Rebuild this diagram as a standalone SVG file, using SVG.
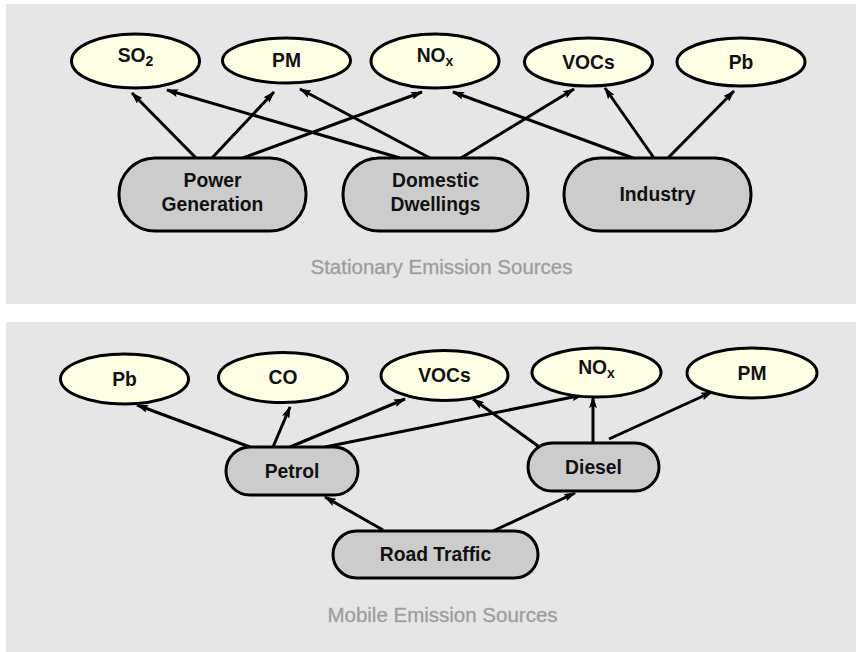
<svg xmlns="http://www.w3.org/2000/svg" width="856" height="652" viewBox="0 0 856 652">
<style>
.panel{fill:#e6e6e6}
.gas{fill:#ffffe6;stroke:#000;stroke-width:3}
.src{fill:#cccccc;stroke:#000;stroke-width:3}
.lbl{font-family:"Liberation Sans",Arial,sans-serif;font-weight:bold;font-size:19.3px;fill:#111;text-anchor:middle}
.cap{font-family:"Liberation Sans",Arial,sans-serif;font-size:20.5px;fill:#999;stroke:#aaa;stroke-width:0.4;text-anchor:middle}
.sub{font-size:14px}
#connectors line{stroke:#000;stroke-width:3;marker-end:url(#ah)}
</style>
<defs>
<marker id="ah" viewBox="0 0 12 8" refX="11" refY="4" markerWidth="12" markerHeight="8" markerUnits="userSpaceOnUse" orient="auto">
<path d="M0,0 L12,4 L0,8 L2,4 z" fill="#000"/>
</marker>
</defs>
<rect class="panel" x="6" y="4" width="850" height="300"/>
<rect class="panel" x="6" y="322" width="850" height="330"/>

<g id="connectors">
<line x1="196" y1="158" x2="132" y2="93"/>
<line x1="212" y1="158" x2="274" y2="92"/>
<line x1="243" y1="158" x2="422" y2="92"/>
<line x1="400" y1="158" x2="167" y2="90"/>
<line x1="430" y1="158" x2="300" y2="89"/>
<line x1="461" y1="158" x2="574" y2="89"/>
<line x1="633" y1="158" x2="453" y2="92"/>
<line x1="654" y1="158" x2="605" y2="88"/>
<line x1="668" y1="158" x2="734" y2="91"/>
<line x1="250" y1="447" x2="137" y2="405"/>
<line x1="273" y1="447" x2="290" y2="407"/>
<line x1="290" y1="447" x2="405" y2="399"/>
<line x1="325" y1="447" x2="583" y2="395"/>
<line x1="538" y1="446" x2="473" y2="399"/>
<line x1="593" y1="443" x2="593" y2="397"/>
<line x1="609" y1="439" x2="712" y2="392"/>
<line x1="383" y1="530" x2="325" y2="497"/>
<line x1="493" y1="531" x2="575" y2="493"/>
</g>

<g id="t-so2"><ellipse class="gas" cx="135.5" cy="61" rx="64" ry="27"/><text class="lbl" x="135.5" y="62">SO<tspan class="sub" dy="4">2</tspan></text></g>
<g id="t-pm"><ellipse class="gas" cx="286.5" cy="60.5" rx="64" ry="22.5"/><text class="lbl" x="286.5" y="66.5">PM</text></g>
<g id="t-nox"><ellipse class="gas" cx="435" cy="61" rx="64" ry="27"/><text class="lbl" x="435" y="62">NO<tspan class="sub" dy="4">x</tspan></text></g>
<g id="t-vocs"><ellipse class="gas" cx="588.5" cy="62" rx="64" ry="24"/><text class="lbl" x="588.5" y="68.5">VOCs</text></g>
<g id="t-pb"><ellipse class="gas" cx="741" cy="62" rx="64" ry="24"/><text class="lbl" x="741" y="68.5">Pb</text></g>

<g id="power"><rect class="src" x="119" y="158" width="187" height="73" rx="36"/><text class="lbl" x="212.5" y="187">Power</text><text class="lbl" x="212.5" y="211">Generation</text></g>
<g id="domestic"><rect class="src" x="343" y="158" width="185" height="73" rx="36"/><text class="lbl" x="435.5" y="187">Domestic</text><text class="lbl" x="435.5" y="211">Dwellings</text></g>
<g id="industry"><rect class="src" x="564" y="158" width="187" height="73" rx="36"/><text class="lbl" x="657.5" y="201">Industry</text></g>
<text class="cap" x="441.5" y="274">Stationary Emission Sources</text>

<g id="m-pb"><ellipse class="gas" cx="124.5" cy="379" rx="64" ry="25"/><text class="lbl" x="124.5" y="385.5">Pb</text></g>
<g id="m-co"><ellipse class="gas" cx="283" cy="377.5" rx="64.5" ry="25"/><text class="lbl" x="283" y="384">CO</text></g>
<g id="m-vocs"><ellipse class="gas" cx="444.5" cy="375.5" rx="63.5" ry="25"/><text class="lbl" x="444.5" y="382">VOCs</text></g>
<g id="m-nox"><ellipse class="gas" cx="596.5" cy="372.5" rx="64.5" ry="24.5"/><text class="lbl" x="596.5" y="374">NO<tspan class="sub" dy="4">x</tspan></text></g>
<g id="m-pm"><ellipse class="gas" cx="752" cy="373" rx="65" ry="25"/><text class="lbl" x="752" y="379.5">PM</text></g>

<g id="petrol"><rect class="src" x="226" y="447" width="132" height="48" rx="24"/><text class="lbl" x="292" y="478">Petrol</text></g>
<g id="diesel"><rect class="src" x="528" y="443" width="131" height="48" rx="24"/><text class="lbl" x="593.5" y="474">Diesel</text></g>
<g id="road"><rect class="src" x="333" y="531" width="205" height="47" rx="23.5"/><text class="lbl" x="435.5" y="561">Road Traffic</text></g>
<text class="cap" x="442.5" y="622">Mobile Emission Sources</text>
</svg>
